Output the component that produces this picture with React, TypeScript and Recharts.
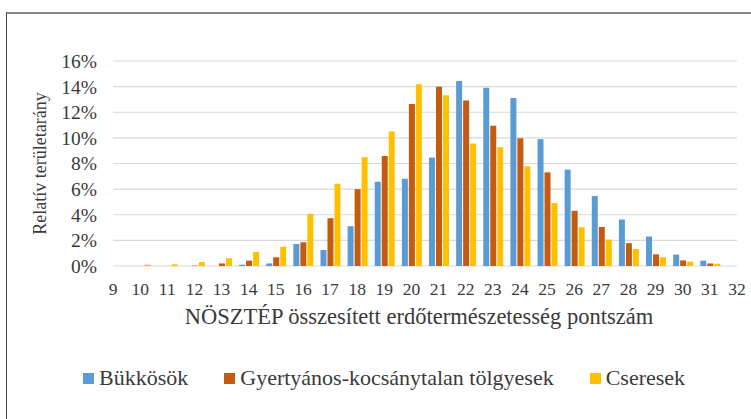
import React from "react";
import { BarChart, Bar, XAxis, YAxis, CartesianGrid, Legend } from "recharts";

// NÖSZTÉP score classes
const scores = [9, 10, 11, 12, 13, 14, 15, 16, 17, 18, 19, 20, 21, 22, 23, 24, 25, 26, 27, 28, 29, 30, 31, 32];

// relative area share (%) per forest type
const bukkosok = [0, 0, 0, 0, 0, 0.1, 0.2, 1.72, 1.25, 3.1, 6.58, 6.81, 8.46, 14.44, 13.92, 13.11, 9.9, 7.52, 5.46, 3.63, 2.3, 0.89, 0.42, 0];
const gyertyanos = [0, 0, 0, 0.03, 0.2, 0.42, 0.68, 1.85, 3.73, 6.0, 8.59, 12.64, 14.0, 12.92, 10.94, 9.97, 7.31, 4.31, 3.05, 1.78, 0.91, 0.44, 0.2, 0];
const cseresek = [0, 0.1, 0.13, 0.31, 0.6, 1.1, 1.51, 4.07, 6.42, 8.49, 10.5, 14.18, 13.32, 9.56, 9.27, 7.78, 4.91, 3.03, 2.06, 1.33, 0.68, 0.34, 0.18, 0];

const seriesNames = ["Bükkösök", "Gyertyános-kocsánytalan tölgyesek", "Cseresek"];

const yTicks = [0, 2, 4, 6, 8, 10, 12, 14, 16];

const data = scores.map((s, i) => ({
  score: s,
  b: bukkosok[i],
  g: gyertyanos[i],
  c: cseresek[i],
}));

const FONT = "Liberation Serif";
const TEXT = "#3a3a3a";

const renderLegend = (props: any) => {
  const items = [...props.payload].sort(
    (a: any, b: any) => seriesNames.indexOf(a.value) - seriesNames.indexOf(b.value)
  );
  return (
    <div style={{ display: "flex", justifyContent: "flex-start", paddingLeft: 83, fontFamily: FONT, fontSize: 22, color: TEXT }}>
      {items.map((p: any, i: number) => (
        <div key={i} style={{ display: "flex", alignItems: "center", marginRight: 36 }}>
          <span style={{ display: "inline-block", width: 11, height: 11, background: p.color, marginRight: 5 }} />
          <span>{p.value}</span>
        </div>
      ))}
    </div>
  );
};

export default function App() {
  return (
    <div style={{ position: "absolute", left: 0, top: 0, width: 751, height: 419, background: "#fff", overflow: "hidden", fontFamily: FONT }}>
      <div style={{ position: "absolute", left: 6, top: 12, width: 800, height: 500, borderLeft: "1.5px solid #444", borderTop: "2px solid #888" }} />
      <div style={{ position: "absolute", left: 0, top: 0 }}>
        <BarChart width={751} height={419} data={data} margin={{ top: 61, right: 14, left: 0, bottom: 67 }} barSize={6} barGap={1}>
          <CartesianGrid vertical={false} stroke="#d9d9d9" strokeWidth={1.2} />
          <XAxis
            dataKey="score"
            type="number"
            domain={[9, 32]}
            ticks={scores}
            interval={0}
            axisLine={false}
            tickLine={false}
            tickMargin={11}
            height={60}
            tick={{ fill: TEXT, fontFamily: FONT, fontSize: 17.5 }}
            label={{ value: "NÖSZTÉP összesített erdőtermészetesség pontszám", position: "insideBottom", offset: 2, dx: -6, fill: TEXT, fontFamily: FONT, fontSize: 22.5 }}
          />
          <YAxis
            domain={[0, 16]}
            ticks={yTicks}
            interval={0}
            width={113}
            axisLine={false}
            tickLine={false}
            tickMargin={10}
            tickFormatter={(v: number) => `${v}%`}
            tick={{ fill: TEXT, fontFamily: FONT, fontSize: 19.5 }}
            label={{ value: "Relatív területarány", angle: -90, position: "insideLeft", offset: 40, fill: TEXT, fontFamily: FONT, fontSize: 18, style: { textAnchor: "middle" } }}
          />
          <Legend
            layout="vertical"
            align="center"
            verticalAlign="bottom"
            wrapperStyle={{ left: 0, top: 365, width: 751 }}
            content={renderLegend}
          />
          <Bar dataKey="b" name="Bükkösök" fill="#5B9BD5" isAnimationActive={false} />
          <Bar dataKey="g" name="Gyertyános-kocsánytalan tölgyesek" fill="#C55A11" isAnimationActive={false} />
          <Bar dataKey="c" name="Cseresek" fill="#FFC000" isAnimationActive={false} />
        </BarChart>
      </div>
    </div>
  );
}
